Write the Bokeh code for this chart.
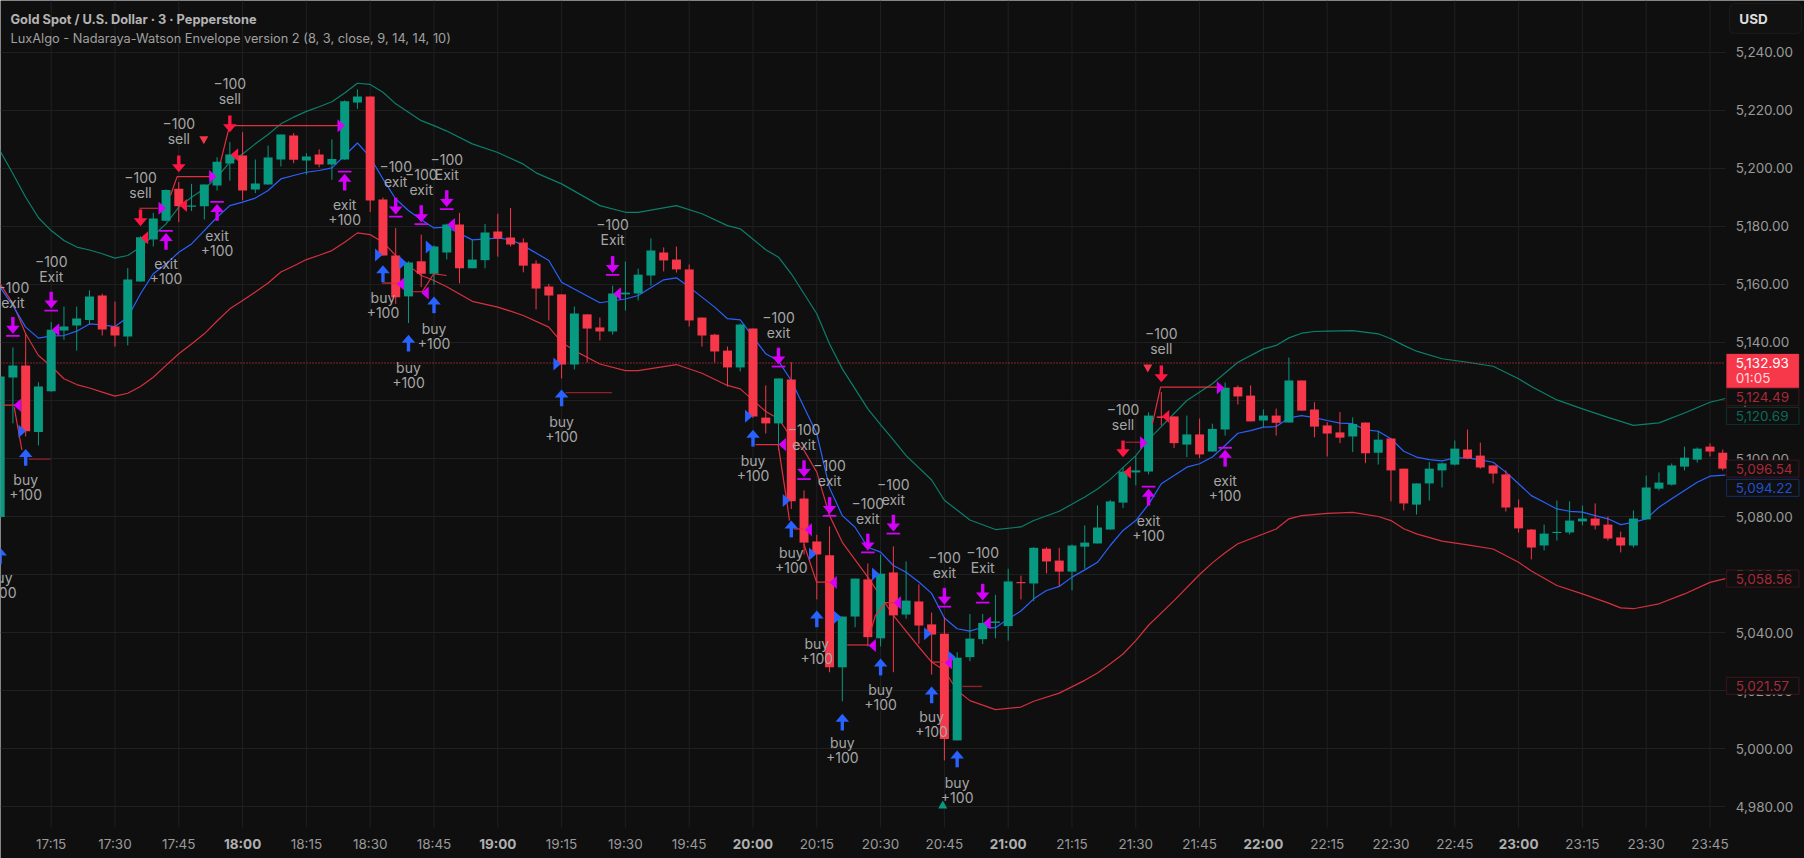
from bokeh.plotting import figure
from bokeh.models import Label, BoxAnnotation, ColumnDataSource
from bokeh.core.properties import value
from bokeh.embed import file_html
from bokeh.resources import INLINE

FIRST_BAR = -4
open_ = [5079.8,5127.9,5132.1,5109.1,5123.2,5144.1,5145.9,5147.8,5156.2,5145.5,5142.1,5161,5175.5,5182,5193,5186.8,5187,5194.1,5201.7,5204.5,5192.8,5194.5,5203.1,5211.4,5202.8,5204.8,5201.4,5203.1,5222.8,5224.8,5189.3,5170,5155.9,5168,5163.7,5171,5180.7,5165.6,5168.4,5178.3,5176.2,5174.5,5167.2,5159.3,5156.6,5132.4,5149.7,5145.2,5143.8,5156.6,5156.9,5163.1,5171,5168.6,5165.2,5148.6,5142.7,5137.2,5131.4,5144.8,5114.1,5112.1,5127.2,5086.2,5071.4,5066.6,5028,5045.5,5058.3,5038,5060.7,5046.2,5050.7,5042.8,5039.6,5002.8,5031.5,5037.7,5043.3,5042.2,5057.4,5056.9,5068.9,5064.8,5061,5069.6,5070.7,5075.5,5084.8,5095.2,5095.5,5114.5,5114.5,5104.8,5108.3,5102.4,5110,5124.6,5121.7,5113.1,5114.8,5112.4,5126.9,5116.9,5111.4,5109,5107.6,5112.4,5102,5106.9,5096.5,5084.1,5091.4,5095.9,5097.9,5103.1,5101,5097.6,5094.5,5083.1,5075.5,5070,5074.3,5074.5,5078.3,5079.3,5077.2,5072.8,5070,5079,5089.6,5091,5097.2,5099.6,5104.1,5102]
high = [5128.3,5138.3,5143,5126.3,5147,5152.4,5152.4,5158,5156.8,5154.1,5165.7,5176.6,5184.7,5192.8,5195.3,5194.7,5194.5,5203.9,5209.1,5212.5,5203.1,5207.9,5211.7,5212.2,5205.3,5206.6,5210,5223.5,5227.3,5224.8,5190,5179.5,5168,5177.2,5173.5,5181,5184.7,5175.4,5180.9,5184.4,5186.4,5175.9,5168.3,5160.2,5156.6,5152.4,5149.7,5148.6,5159.6,5167.9,5165.5,5175.9,5172.8,5173.1,5166.9,5148.6,5143,5138.6,5146.5,5144.8,5125.2,5127.6,5133.2,5089,5073.7,5076.6,5045.5,5058.6,5063.8,5066.9,5069.7,5064.5,5056.6,5046.9,5045.3,5033.2,5046.4,5046.4,5053,5062,5059.6,5069.4,5069.4,5069.2,5070.3,5076.9,5083.8,5085.7,5097,5100.8,5115.9,5122.9,5114.5,5114.8,5113.8,5112,5126.2,5125.2,5125.2,5116.9,5117.2,5134.8,5126.9,5119.4,5112.5,5116,5114.2,5112.4,5109.6,5106.9,5096.5,5091.4,5098.8,5098.6,5106.2,5110,5105.5,5097.6,5095.9,5085.9,5075.7,5077.2,5085.5,5085.2,5083.8,5084.5,5080,5074.8,5082.1,5094.1,5095.2,5098.3,5104.1,5103.8,5105.2,5103.1]
low = [5079.8,5112.1,5107.6,5104.5,5123,5140.9,5137.2,5146.4,5142.4,5138.6,5139,5161,5173.1,5181.8,5181.5,5185.3,5182.4,5192.4,5195.8,5189,5191.5,5194.5,5200.7,5201.8,5197.9,5200.4,5196.1,5203,5220.6,5185,5170,5153.3,5146.7,5159.1,5159.9,5168.6,5160.4,5165.6,5165.6,5169.6,5173.1,5164.2,5151.4,5147.6,5127.6,5130.7,5133.1,5140.7,5142.7,5151,5154.5,5159.6,5164.5,5164.1,5145.5,5138.6,5133.1,5124.8,5130,5114,5108.6,5102.8,5082.6,5066.9,5051.4,5026.3,5016.3,5041.8,5035.2,5035.2,5026.3,5044.8,5036.1,5025.5,4995.9,5002.8,5030.1,5036,5038,5037.2,5051.4,5050.8,5060.4,5055.9,5054.5,5062,5070.7,5075.5,5082.9,5090.7,5094.5,5111.4,5103.6,5100.5,5100.1,5102.4,5107.9,5118.6,5112.8,5110.7,5107.9,5112.4,5116.5,5107.3,5100.7,5105.3,5102.2,5098.4,5097.9,5085.2,5082.1,5080.7,5085.5,5090,5097.6,5099.7,5096.5,5091.4,5081.7,5074.5,5065.2,5068.3,5071.7,5073.8,5076.9,5075.5,5071.7,5067.6,5069.3,5079,5089,5090.7,5095.9,5098.6,5100.7,5095.9]
close = [5128.3,5132.1,5109.4,5124.8,5144.4,5145.5,5148.3,5155.9,5144.5,5142.4,5161.7,5176.3,5182.8,5192.6,5187,5187.2,5194.5,5202.3,5204.8,5192.4,5194.8,5203.8,5211.7,5203,5204.1,5201.4,5203.3,5223.2,5224.8,5189,5170,5155.6,5167.6,5163.7,5173.1,5180.7,5165.6,5168.6,5177.9,5175.9,5173.8,5166.5,5158.6,5156.2,5132.4,5150,5144.8,5143.8,5156.9,5157.2,5163.4,5171.7,5168.3,5165.2,5147.6,5142.4,5136.9,5131.4,5146.2,5114.5,5112.1,5127.6,5085.3,5071,5066.9,5028,5045.5,5058.6,5038.4,5060.3,5045.9,5051,5042.4,5039.3,5003.3,5031.3,5037.9,5043.3,5043.8,5057.6,5057,5069.2,5064.5,5061,5070,5071,5076.2,5085.2,5095.5,5095.9,5114.8,5114,5105.3,5108.3,5101.4,5110.2,5124.4,5121.4,5112.8,5114.8,5112.3,5126.9,5116.5,5111,5108.6,5107.2,5111.9,5101.8,5106.5,5095.9,5084.5,5091.4,5096.5,5098.3,5103.4,5100,5096.9,5094.8,5083.1,5075.9,5069.3,5074.1,5074.7,5078.6,5079.3,5076.9,5072.4,5070,5079.3,5090,5091.7,5097.6,5100.3,5103.4,5102.4,5096.5]

upper_band = [(-4,5206),(-3,5198.2),(-2,5190.1),(-1,5183),(0,5178.6),(1,5175.2),(2,5172.9),(3,5171.9),(4,5170.6),(5,5169.1),(6,5170),(7,5172.9),(8,5176.9),(9,5180.9),(10,5186.7),(11,5190.1),(12,5193),(13,5197),(14,5202.2),(15,5205),(16,5208.5),(17,5211.7),(18,5215.4),(19,5217.7),(20,5219.7),(21,5221.3),(22,5223),(23,5226),(24,5229.4),(25,5229),(26,5226.3),(27,5222.3),(28,5219.4),(29,5216.5),(30,5214.8),(31,5212.9),(33,5208.5),(35,5205.5),(37,5201.5),(38,5198.5),(40,5194.7),(43,5187.2),(45,5184.9),(46,5184.9),(49,5187.2),(51,5184.4),(53,5180.3),(54,5179.2),(56,5172),(57,5169.4),(58,5163.7),(60,5149.9),(61,5139.5),(62,5130.9),(64,5117.1),(65,5111.7),(66,5106.4),(67,5101),(69,5092.6),(70,5085.6),(72,5078.8),(74,5075.5),(76,5076.4),(77,5078.6),(79,5081.8),(81,5086.7),(82,5089.5),(83,5092.8),(85,5101),(86,5106.5),(89,5120),(91,5125.8),(93,5133.2),(95,5137.8),(96,5139),(97,5141.6),(98,5143.2),(99,5143.8),(100,5143.9),(102,5144.1),(104,5143),(105,5141.3),(106,5139),(107,5137),(109,5134.4),(111,5133.2),(113,5131.8),(115,5127.5),(116,5124.8),(118,5120.2),(120,5117.1),(122,5114.2),(124,5111.4),(126,5112.3),(128,5115.7),(130,5119.4),(131.2,5120.7)]
mid_band = [(-4,5159),(-3,5152.7),(-2,5145.3),(-1,5141.5),(0,5142.3),(1,5142.4),(2,5143.9),(3,5146.4),(4,5146.1),(5,5145.5),(6,5148.7),(7,5156.8),(8,5163.7),(9,5167.1),(10,5171.1),(11,5174),(12,5178.6),(13,5183.2),(14,5187.2),(15,5188.4),(16,5189.8),(17,5192.4),(18,5196.4),(19,5197.6),(20,5198.7),(21,5199.3),(22,5200.2),(23,5204.5),(24,5208.8),(25,5203.9),(26,5196.4),(27,5189.5),(28,5185.5),(29,5182.3),(30,5179.5),(31,5179.8),(33,5175.4),(35,5176),(36,5175.5),(37,5173.4),(39,5168.3),(40,5160.8),(43,5153.7),(45,5155),(46,5156.2),(48,5161.6),(49,5162.3),(50,5159.1),(52,5152.2),(53,5148.2),(54,5147.8),(56,5136.1),(57,5133.6),(58,5126.9),(60,5108.5),(61,5089.8),(62,5080.3),(63,5076.3),(64,5069.4),(65,5067.7),(66,5063.1),(67,5060.8),(68,5057.4),(69,5053.5),(70,5045),(71,5041.3),(72,5040.5),(73,5041.8),(74,5041.6),(75,5044.7),(76,5047.4),(77,5051.6),(78,5054.5),(79,5055.9),(80,5059.1),(81,5061.6),(82,5064.2),(83,5070),(84,5075.2),(85,5078.6),(86,5084.2),(87,5091.3),(88,5094.1),(89,5097),(90,5098.2),(91,5100.5),(92,5104.5),(93,5108.7),(94,5109.6),(95,5110.8),(96,5111),(97,5114),(98,5114.8),(99,5114.1),(100,5113.1),(101,5112.2),(102,5112),(103,5109.9),(104,5109.4),(105,5106.8),(106,5102.5),(107,5100.5),(108,5099.6),(109,5099.2),(110,5100.2),(111,5100.2),(112,5099.5),(113,5098.7),(114,5095.3),(115,5091.3),(116,5087.2),(117,5084.9),(118,5082.6),(119,5081.8),(120,5081.5),(121,5080.3),(122,5079.2),(123,5077.2),(124,5078),(125,5079.2),(126,5083.2),(127,5086.1),(128,5089),(129,5091.8),(130,5093.9),(131.2,5094.3)]
lower_band = [(-4,5160.2),(-3,5153.4),(-2,5143),(-1,5135.5),(0,5131.8),(1,5127.5),(2,5125.5),(3,5124.3),(4,5122.9),(5,5121.5),(6,5122.5),(7,5124.8),(8,5128),(9,5132.1),(10,5136.1),(11,5139.5),(12,5143),(13,5147.4),(14,5151.6),(15,5154.5),(16,5157.4),(17,5160.5),(18,5164.3),(19,5166.4),(20,5168.6),(21,5170.1),(22,5171.7),(23,5174.6),(24,5177.8),(25,5177.2),(26,5174.6),(27,5170),(28,5166.6),(29,5163.1),(30,5161.4),(31,5159.2),(33,5154.2),(35,5152.2),(36,5150.8),(37,5149.3),(39,5145.3),(40,5140.1),(41,5137.2),(43,5132.6),(45,5130.3),(46,5130.3),(49,5132.4),(51,5129.4),(53,5125.2),(54,5124),(56,5116.2),(57,5113.7),(58,5107.3),(59,5102.8),(60,5095.3),(61,5080.3),(62,5071.1),(64,5059.1),(66,5045.9),(68,5035),(69,5029.8),(70,5026.9),(71,5020),(72,5016.5),(74,5013.4),(76,5014.3),(77,5016.3),(79,5019.1),(81,5023.5),(82,5026),(83,5029.2),(84,5032.6),(85,5037.2),(86,5042.5),(88,5051),(90,5060),(91,5064),(92,5067.5),(93,5070.6),(96,5075.7),(97,5079.2),(98,5080.3),(100,5081.1),(102,5081.4),(104,5080),(105,5078.6),(106,5075.8),(107,5074),(109,5071.5),(111,5070.2),(113,5068.8),(115,5064.2),(116,5061.2),(118,5056.2),(120,5053.3),(122,5050.2),(123,5048.5),(124,5048.2),(126,5049.9),(128,5053.3),(130,5057.3),(131.2,5058.6)]

trade_lines = [
    [(-3.8,5118.4),(-2.8,5118.4)],
    [(-2.9,5117.7),(-2.3,5103)],
    [(6.92,5186.3),(8.4,5186.3)],
    [(9.35,5190.7),(9.87,5197.2),(12.5,5197.2)],
    [(13.27,5202.2),(13.87,5212.9),(14.31,5214.8),(22.54,5214.8)],
    [(25.94,5160.5),(27.12,5160.5)],
    [(28.29,5157.5),(29.08,5157.5),(29.98,5163.7),(30.98,5163.1)],
    [(55.2,5104.8),(56.97,5104.8),(57.6,5086.7),(57.86,5078.6)],
    [(58.2,5075.7),(58.98,5075.7)],
    [(58.98,5070.6),(59.98,5057.4),(60.94,5057.4)],
    [(62.38,5035.7),(64.07,5035.7)],
    [(64.07,5038.4),(64.6,5045.9),(65.4,5050.3),(66.03,5050.3)],
    [(69.04,5029.8),(69.93,5029.8)],
    [(86.3,5111.9),(86.94,5124.6),(91.39,5124.6)],
]
faded_trade_lines = [
    [(-1.75,5099.8),(-0.05,5099.8)],
    [(40.3,5122.7),(43.96,5122.7)],
    [(71.4,5021.4),(72.96,5021.4)],
    [(84.2,5105.6),(85.37,5105.6)],
]

buy_arrows = [(-4,5069.3),(-2,5103.3),(26,5166.6),(28,5142.7),(30,5155.9),(40,5123.8),(55,5109.9),(58,5078.6),(60,5047.6),(62,5012),(65,5031),(69,5021.4),(71,4999.3)]
sell_arrows = [(7,5180.1),(10,5198.7),(14,5212.5),(84,5100.4),(87,5126.3)]
exit_down_arrows = [(-3,5143),(0,5151.7),(27,5184.1),(29,5181.5),(31,5186.7),(44,5164),(57,5132.4),(59,5093.6),(61,5080.9),(64,5068.3),(66,5074.8),(70,5049.6),(73,5051)]
exit_up_arrows = [(9,5177.8),(13,5187.8),(23,5198.2),(86,5089.6),(92,5103)]

MINUS = "\u2212100"
label_rows = [
    (-4,5059.1,"buy","+100"),(-2,5092.9,"buy","+100"),(26,5155.6,"buy","+100"),(28,5131.5,"buy","+100"),(30,5144.9,"buy","+100"),
    (40,5112.9,"buy","+100"),(55,5099.3,"buy","+100"),(58,5067.6,"buy","+100"),(60,5036.3,"buy","+100"),(62,5002,"buy","+100"),
    (65,5020.5,"buy","+100"),(69,5011,"buy","+100"),(71,4988.4,"buy","+100"),
    (7,5196.8,MINUS,"sell"),(10,5215.4,MINUS,"sell"),(14,5229.2,MINUS,"sell"),(84,5117,MINUS,"sell"),(87,5143,MINUS,"sell"),
    (-3,5159,MINUS,"exit"),(0,5167.8,MINUS,"Exit"),(27,5200.7,MINUS,"exit"),(29,5198,MINUS,"exit"),(31,5203.2,MINUS,"Exit"),
    (44,5180.6,MINUS,"Exit"),(57,5148.5,MINUS,"exit"),(59,5109.9,MINUS,"exit"),(61,5097.5,MINUS,"exit"),(64,5084.6,MINUS,"exit"),
    (66,5090.9,MINUS,"exit"),(70,5066,MINUS,"exit"),(73,5067.5,MINUS,"Exit"),
    (9,5167.1,"exit","+100"),(13,5177,"exit","+100"),(23,5187.7,"exit","+100"),(86,5078.6,"exit","+100"),(92,5092.5,"exit","+100"),
]

blue_right = [(-2.27,5109.4),(25.67,5170.2),(27.58,5167.5),(29.65,5172.9),(39.65,5132.6),(54.67,5114.6),(57.62,5085.5),(59.68,5067.1),(61.64,5045.3),(64.62,5060.2),(68.7,5039.6),(70.6,5031.5)]
magenta_left = [(-2.66,5118.4),(0.34,5144.4),(27.37,5160.2),(29.3,5157.1),(31.35,5180.7),(44.36,5156.8),(57.29,5104.8),(59.33,5075.4),(61.28,5057.2),(64.34,5035.5),(66.3,5050.3),(70.3,5029.6),(73.35,5043.3)]
magenta_right = [(8.7,5186.3),(12.67,5197.2),(22.73,5214.7),(85.63,5105.4),(91.64,5124.4)]
red_left = [(7.31,5176.1),(10.35,5187.2),(14.36,5204.7),(84.33,5095.3),(87.33,5114.5)]
red_down = [(11.96,5209.7),(85.94,5131)]
green_up = [(69.87,4980.7)]

PRICE_TICKS = [4980,5000,5020,5040,5060,5080,5100,5120,5140,5160,5180,5200,5220,5240]
TIME_BARS = list(range(0,131,5))
TIME_LABELS = ["17:15","17:30","17:45","18:00","18:15","18:30","18:45","19:00","19:15","19:30","19:45","20:00","20:15","20:30","20:45","21:00","21:15","21:30","21:45","22:00","22:15","22:30","22:45","23:00","23:15","23:30","23:45"]
BOLD_LABELS = ["18:00","19:00","20:00","21:00","22:00","23:00"]

TITLE = "Gold Spot / U.S. Dollar · 3 · Pepperstone"
SUBTITLE = "LuxAlgo - Nadaraya-Watson Envelope version 2 (8, 3, close, 9, 14, 14, 10)"
LAST_PRICE = 5132.93
# tag text, the height in the price column where the tag sits (stacked tags are pushed apart), colours
price_tags = [
    ("5,124.49",5121.14,"#a8293a","#8e2430"),
    ("5,120.69",5114.66,"#0a6a58","#0c7c68"),
    ("5,096.54",5096.54,"#a8293a","#8e2430"),
    ("5,094.22",5089.9,"#2050d0","#2962ff"),
    ("5,058.56",5058.56,"#a8293a","#8e2430"),
    ("5,021.57",5021.57,"#a8293a","#8e2430"),
]

BG = "#0f0f0f"; GRID = "#202020"; UP = "#089981"; DOWN = "#f7374a"
TEXT = "#a6a6a6"; AXIS_TEXT = "#9a9a9a"; BLUE = "#2962ff"; MAGENTA = "#d500f9"; RED = "#ff1744"
PX_X = 1 / 12.76   # bars per pixel
PX_Y = 1 / 2.9     # price units per pixel

XR = (-3.973, 137.406)
YR = (4962.07, 5257.93)
AXIS_EDGE_BAR = 131.215     # right end of the plotting area, start of the price column
AXIS_EDGE_PRICE = 4972.76   # bottom end of the plotting area, top of the time row

p = figure(width=1804, height=858, x_range=XR, y_range=YR, output_backend="svg", toolbar_location=None,
           min_border=0, background_fill_color=BG, border_fill_color=BG, outline_line_color=None,
           x_axis_location=None, y_axis_location=None)
p.grid.visible = False

p.segment(TIME_BARS, [AXIS_EDGE_PRICE] * len(TIME_BARS), TIME_BARS, [YR[1]] * len(TIME_BARS), line_color=GRID, line_width=1)
p.segment([XR[0]] * len(PRICE_TICKS), PRICE_TICKS, [AXIS_EDGE_BAR] * len(PRICE_TICKS), PRICE_TICKS, line_color=GRID, line_width=1)

def band(pairs, color):
    p.line([b for b, _ in pairs], [v for _, v in pairs], line_color=color, line_width=1.2)

band(upper_band, "#0c7f6c")
band(lower_band, "#d5303f")
band(mid_band, BLUE)

p.line([XR[0], AXIS_EDGE_BAR], [LAST_PRICE, LAST_PRICE], line_color=DOWN, line_width=1.2, line_dash="1 2")

bars = list(range(FIRST_BAR, FIRST_BAR + len(close)))
colors = [UP if c >= o else DOWN for o, c in zip(open_, close)]
src = ColumnDataSource(dict(x=bars, color=colors, h=high, l=low,
                            top=[max(a, b) for a, b in zip(open_, close)], bot=[min(a, b) for a, b in zip(open_, close)]))
p.segment("x", "h", "x", "l", source=src, line_color="color", line_width=1)
p.vbar("x", 0.705, "bot", "top", source=src, fill_color="color", line_color=None)

for seg in trade_lines:
    p.line([a for a, _ in seg], [b for _, b in seg], line_color="#e0303f", line_width=1.2)
for seg in faded_trade_lines:
    p.line([a for a, _ in seg], [b for _, b in seg], line_color="#8f2029", line_width=1.4)

def arrows(rows, color, up, bar=False):
    s = 1 if up else -1
    xs, ys = [], []
    for b, v in rows:
        xs.append([b, b - 6.8 * PX_X, b + 6.8 * PX_X])
        ys.append([v, v - s * 8 * PX_Y, v - s * 8 * PX_Y])
    p.patches(xs, ys, fill_color=color, line_color=None)
    p.segment([b for b, _ in rows], [v - s * 7 * PX_Y for _, v in rows],
              [b for b, _ in rows], [v - s * 16.8 * PX_Y for _, v in rows], line_color=color, line_width=3.4)
    if bar:
        p.segment([b - 6.8 * PX_X for b, _ in rows], [v + s * 2 * PX_Y for _, v in rows],
                  [b + 6.8 * PX_X for b, _ in rows], [v + s * 2 * PX_Y for _, v in rows], line_color=color, line_width=1.8)

def side_triangles(rows, color, right_pointing):
    s = 1 if right_pointing else -1
    xs = [[b - s * 3.7 * PX_X, b - s * 3.7 * PX_X, b + s * 3.7 * PX_X] for b, _ in rows]
    ys = [[v + 6.5 * PX_Y, v - 6.5 * PX_Y, v] for _, v in rows]
    p.patches(xs, ys, fill_color=color, line_color=None)

def small_triangles(rows, color, up):
    s = 1 if up else -1
    xs = [[b - 4.5 * PX_X, b + 4.5 * PX_X, b] for b, _ in rows]
    ys = [[v - s * 4 * PX_Y, v - s * 4 * PX_Y, v + s * 4 * PX_Y] for _, v in rows]
    p.patches(xs, ys, fill_color=color, line_color=None)

arrows(buy_arrows, BLUE, True)
arrows(sell_arrows, RED, False)
arrows(exit_down_arrows, MAGENTA, False, bar=True)
arrows(exit_up_arrows, MAGENTA, True, bar=True)
side_triangles(blue_right, BLUE, True)
side_triangles(magenta_left, MAGENTA, False)
side_triangles(magenta_right, MAGENTA, True)
side_triangles(red_left, RED, False)
small_triangles(red_down, "#f23645", False)
small_triangles(green_up, UP, True)

LINE_GAP = 15 * PX_Y
p.text([r[0] for r in label_rows], [r[1] for r in label_rows], text=[r[2] for r in label_rows],
       text_color=TEXT, text_font=value("Inter"), text_font_size="14px", text_align="center", text_baseline="middle")
p.text([r[0] for r in label_rows], [r[1] - LINE_GAP for r in label_rows], text=[r[3] for r in label_rows],
       text_color=TEXT, text_font=value("Inter"), text_font_size="14px", text_align="center", text_baseline="middle")

p.text([-3.19], [5251.55], text=[TITLE], text_color="#b4b4b4", text_font=value("Inter"), text_font_style="bold",
       text_font_size="12.8px", text_baseline="middle")
p.text([-3.19], [5244.9], text=[SUBTITLE], text_color="#a0a0a0", text_font=value("Inter"),
       text_font_size="12.8px", text_baseline="middle")

PRICE_LABEL_BAR = 132.02
TIME_LABEL_PRICE = 4967.24
p.text([PRICE_LABEL_BAR] * len(PRICE_TICKS), PRICE_TICKS, text=[f"{t:,.2f}" for t in PRICE_TICKS], text_color=AXIS_TEXT,
       text_font=value("Inter"), text_font_size="13.5px", text_baseline="middle")
reg = [(b, t) for b, t in zip(TIME_BARS, TIME_LABELS) if t not in BOLD_LABELS]
bold = [(b, t) for b, t in zip(TIME_BARS, TIME_LABELS) if t in BOLD_LABELS]
p.text([b for b, _ in reg], [TIME_LABEL_PRICE] * len(reg), text=[t for _, t in reg], text_color=AXIS_TEXT,
       text_font=value("Inter"), text_font_size="13.5px", text_align="center", text_baseline="middle")
p.text([b for b, _ in bold], [TIME_LABEL_PRICE] * len(bold), text=[t for _, t in bold], text_color="#b0b0b0",
       text_font=value("Inter"), text_font_style="bold", text_font_size="13.5px", text_align="center", text_baseline="middle")

TAG_L, TAG_R = AXIS_EDGE_BAR + 0.08, 136.97
TAG_H = 8.5 * PX_Y
for txt, spot, tcol, bcol in price_tags:
    p.add_layout(BoxAnnotation(left=TAG_L, right=TAG_R, top=spot + TAG_H, bottom=spot - TAG_H,
                               fill_color=BG, fill_alpha=1, line_color=bcol, line_width=1.2))
    p.add_layout(Label(x=PRICE_LABEL_BAR, y=spot, text=txt, text_color=tcol, text_font="Inter",
                       text_font_size="13.5px", text_baseline="middle"))

p.add_layout(BoxAnnotation(left=TAG_L, right=TAG_R, top=LAST_PRICE + 3.1, bottom=LAST_PRICE - 8.5,
                           fill_color=DOWN, fill_alpha=1, line_color=DOWN, line_width=1))
p.add_layout(Label(x=PRICE_LABEL_BAR, y=LAST_PRICE, text="5,132.93", text_color="#ffffff", text_font="Inter",
                   text_font_size="13.5px", text_baseline="middle"))
p.add_layout(Label(x=PRICE_LABEL_BAR, y=LAST_PRICE - 5, text="01:05", text_color="#ffd9dd", text_font="Inter",
                   text_font_size="13.5px", text_baseline="middle"))

p.add_layout(BoxAnnotation(left=131.53, right=137.17, top=5256.9, bottom=5246.55, fill_color="#111111", fill_alpha=1,
                           line_color="#333333", line_width=1.2, border_radius=5))
p.add_layout(Label(x=132.3, y=5251.7, text="USD", text_color="#dcdcdc", text_font="Inter",
                   text_font_size="13.5px", text_font_style="bold", text_baseline="middle"))

open("out.html", "w").write(file_html(p, INLINE))
